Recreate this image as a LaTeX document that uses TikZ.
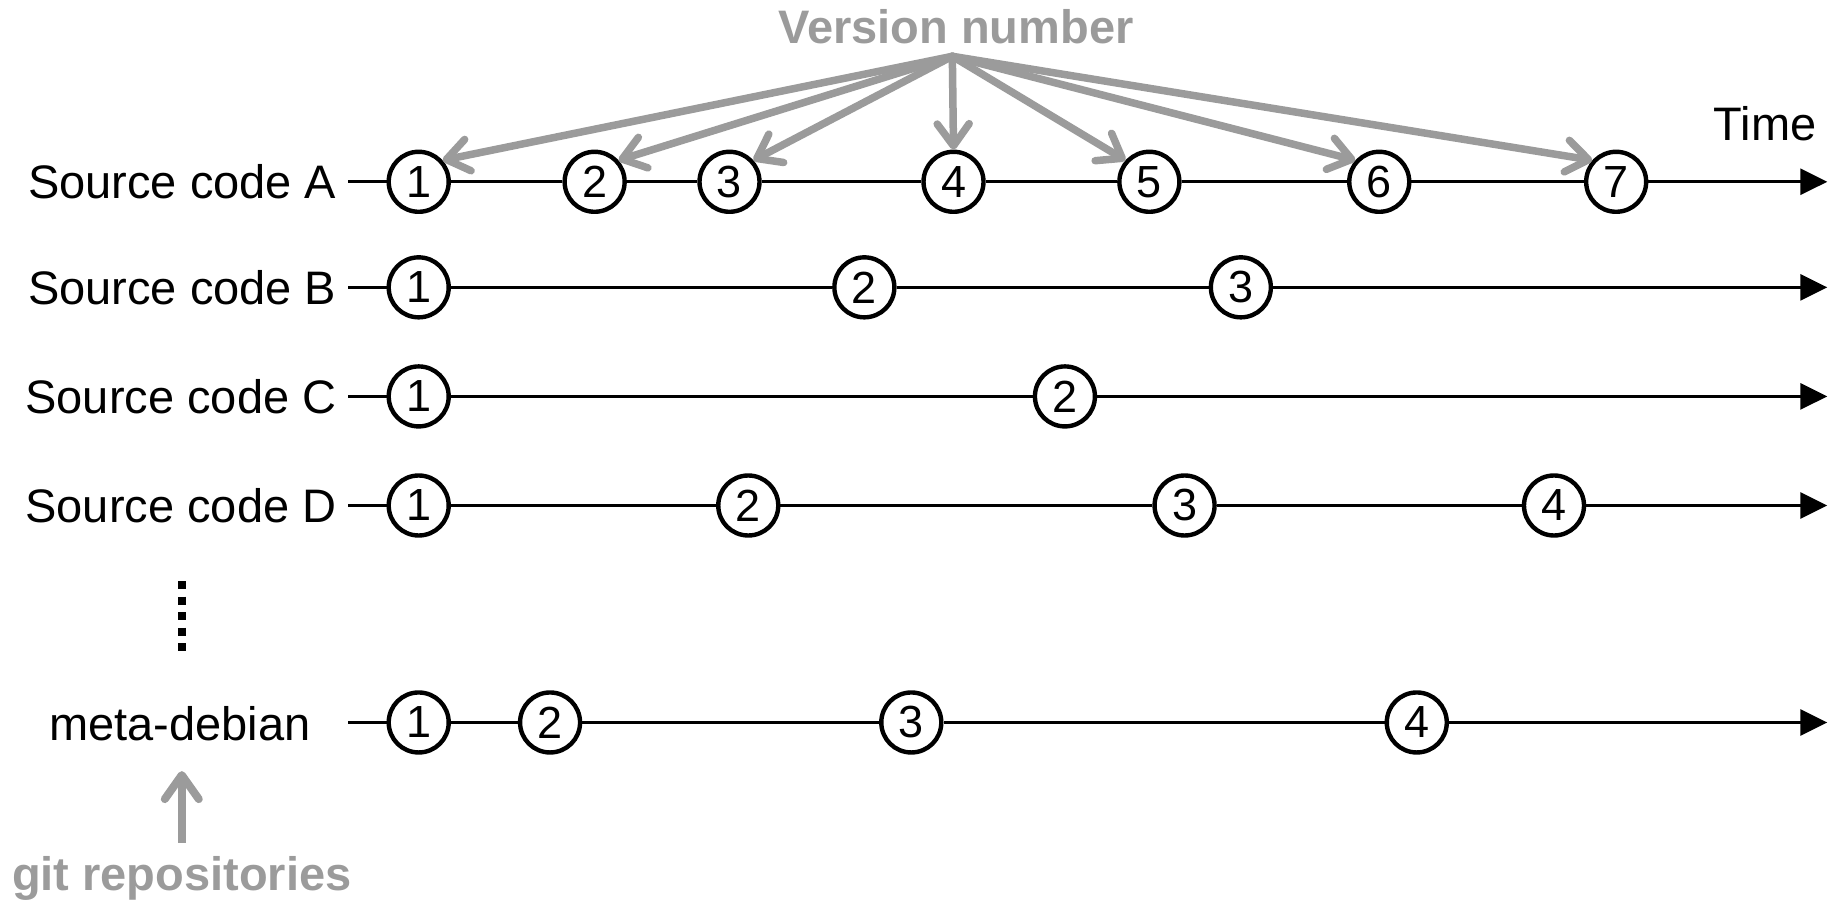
\documentclass[tikz,border=0pt]{standalone}
\usepackage{fontspec}
\setmainfont{Liberation Sans}
\usetikzlibrary{arrows.meta}
\definecolor{vgray}{HTML}{9B9B9B}
\begin{document}
\begin{tikzpicture}[x=1.1728pt,y=-1.1728pt,
  ver/.style={circle,draw=black,line width=4.4pt,fill=white,minimum size=60pt,inner sep=0pt,font=\fontsize{45}{45}\selectfont},
  lab/.style={anchor=east,inner sep=0pt,font=\fontsize{47}{56}\selectfont},
  axis/.style={line width=3pt,-{Triangle[length=27pt,width=26pt]}},
  fan/.style={draw=vgray,line width=7.5pt,line cap=round,-{Straight Barb[round,length=22pt,width=32pt]}},
  glab/.style={text=vgray,inner sep=0pt,font=\fontsize{47}{56}\selectfont\bfseries}
]
\useasboundingbox (0,0) rectangle (1568,768);

% labels
\node[lab] (lA) at (287,155) {Source code A};
\node[lab] (lB) at (287,245) {Source code B};
\node[lab] (lC) at (287,338) {Source code C};
\node[lab] (lD) at (287,431) {Source code D};
\node[inner sep=0pt,font=\fontsize{47}{56}\selectfont] (md) at (153.5,617) {meta-debian};
\node[glab,anchor=base] (git) at (155,759) {git repositories};
\node[glab,anchor=base] (vn) at (815,37) {Version number};
\node[inner sep=0pt,anchor=base,font=\fontsize{47}{56}\selectfont] (time) at (1505,120) {Time};

% row A
\coordinate (sA) at (297,155); \coordinate (eA) at (1558,155);
\node[ver] (a1) at (357,155) {1};
\node[ver] (a2) at (507,155) {2};
\node[ver] (a3) at (622,155) {3};
\node[ver] (a4) at (813,155) {4};
\node[ver] (a5) at (980,155) {5};
\node[ver] (a6) at (1176,155) {6};
\node[ver] (a7) at (1378,155) {7};
\draw[axis] (sA) -- (a1) -- (a2) -- (a3) -- (a4) -- (a5) -- (a6) -- (a7) -- (eA);

% row B
\coordinate (sB) at (297,245); \coordinate (eB) at (1558,245);
\node[ver] (b1) at (357,245) {1};
\node[ver] (b2) at (737,245) {2};
\node[ver] (b3) at (1058,245) {3};
\draw[axis] (sB) -- (b1) -- (b2) -- (b3) -- (eB);

% row C
\coordinate (sC) at (297,338); \coordinate (eC) at (1558,338);
\node[ver] (c1) at (357,338) {1};
\node[ver] (c2) at (908,338) {2};
\draw[axis] (sC) -- (c1) -- (c2) -- (eC);

% row D
\coordinate (sD) at (297,431); \coordinate (eD) at (1558,431);
\node[ver] (d1) at (357,431) {1};
\node[ver] (d2) at (638,431) {2};
\node[ver] (d3) at (1010,431) {3};
\node[ver] (d4) at (1325,431) {4};
\draw[axis] (sD) -- (d1) -- (d2) -- (d3) -- (d4) -- (eD);

% meta-debian row
\coordinate (sM) at (297,616); \coordinate (eM) at (1558,616);
\node[ver] (m1) at (357,616) {1};
\node[ver] (m2) at (469,616) {2};
\node[ver] (m3) at (777,616) {3};
\node[ver] (m4) at (1208,616) {4};
\draw[axis] (sM) -- (m1) -- (m2) -- (m3) -- (m4) -- (eM);

% vertical dots
\draw[line width=8pt,dash pattern=on 8pt off 7.5pt] (155,495.5) -- (155,555.5);

% fan of version arrows
\coordinate (vo) at (812,48);
\foreach \t in {a1.42,a2.42,a3.42,a4.north,a5.138,a6.138,a7.138}
  \draw[fan] (vo) -- (\t);

% git repositories arrow
\draw[draw=vgray,line width=8pt,-{Straight Barb[round,length=24pt,width=34pt]},shorten <=13pt,shorten >=30pt]
  (git.north) -- (git.north |- md.south);
\end{tikzpicture}
\end{document}
